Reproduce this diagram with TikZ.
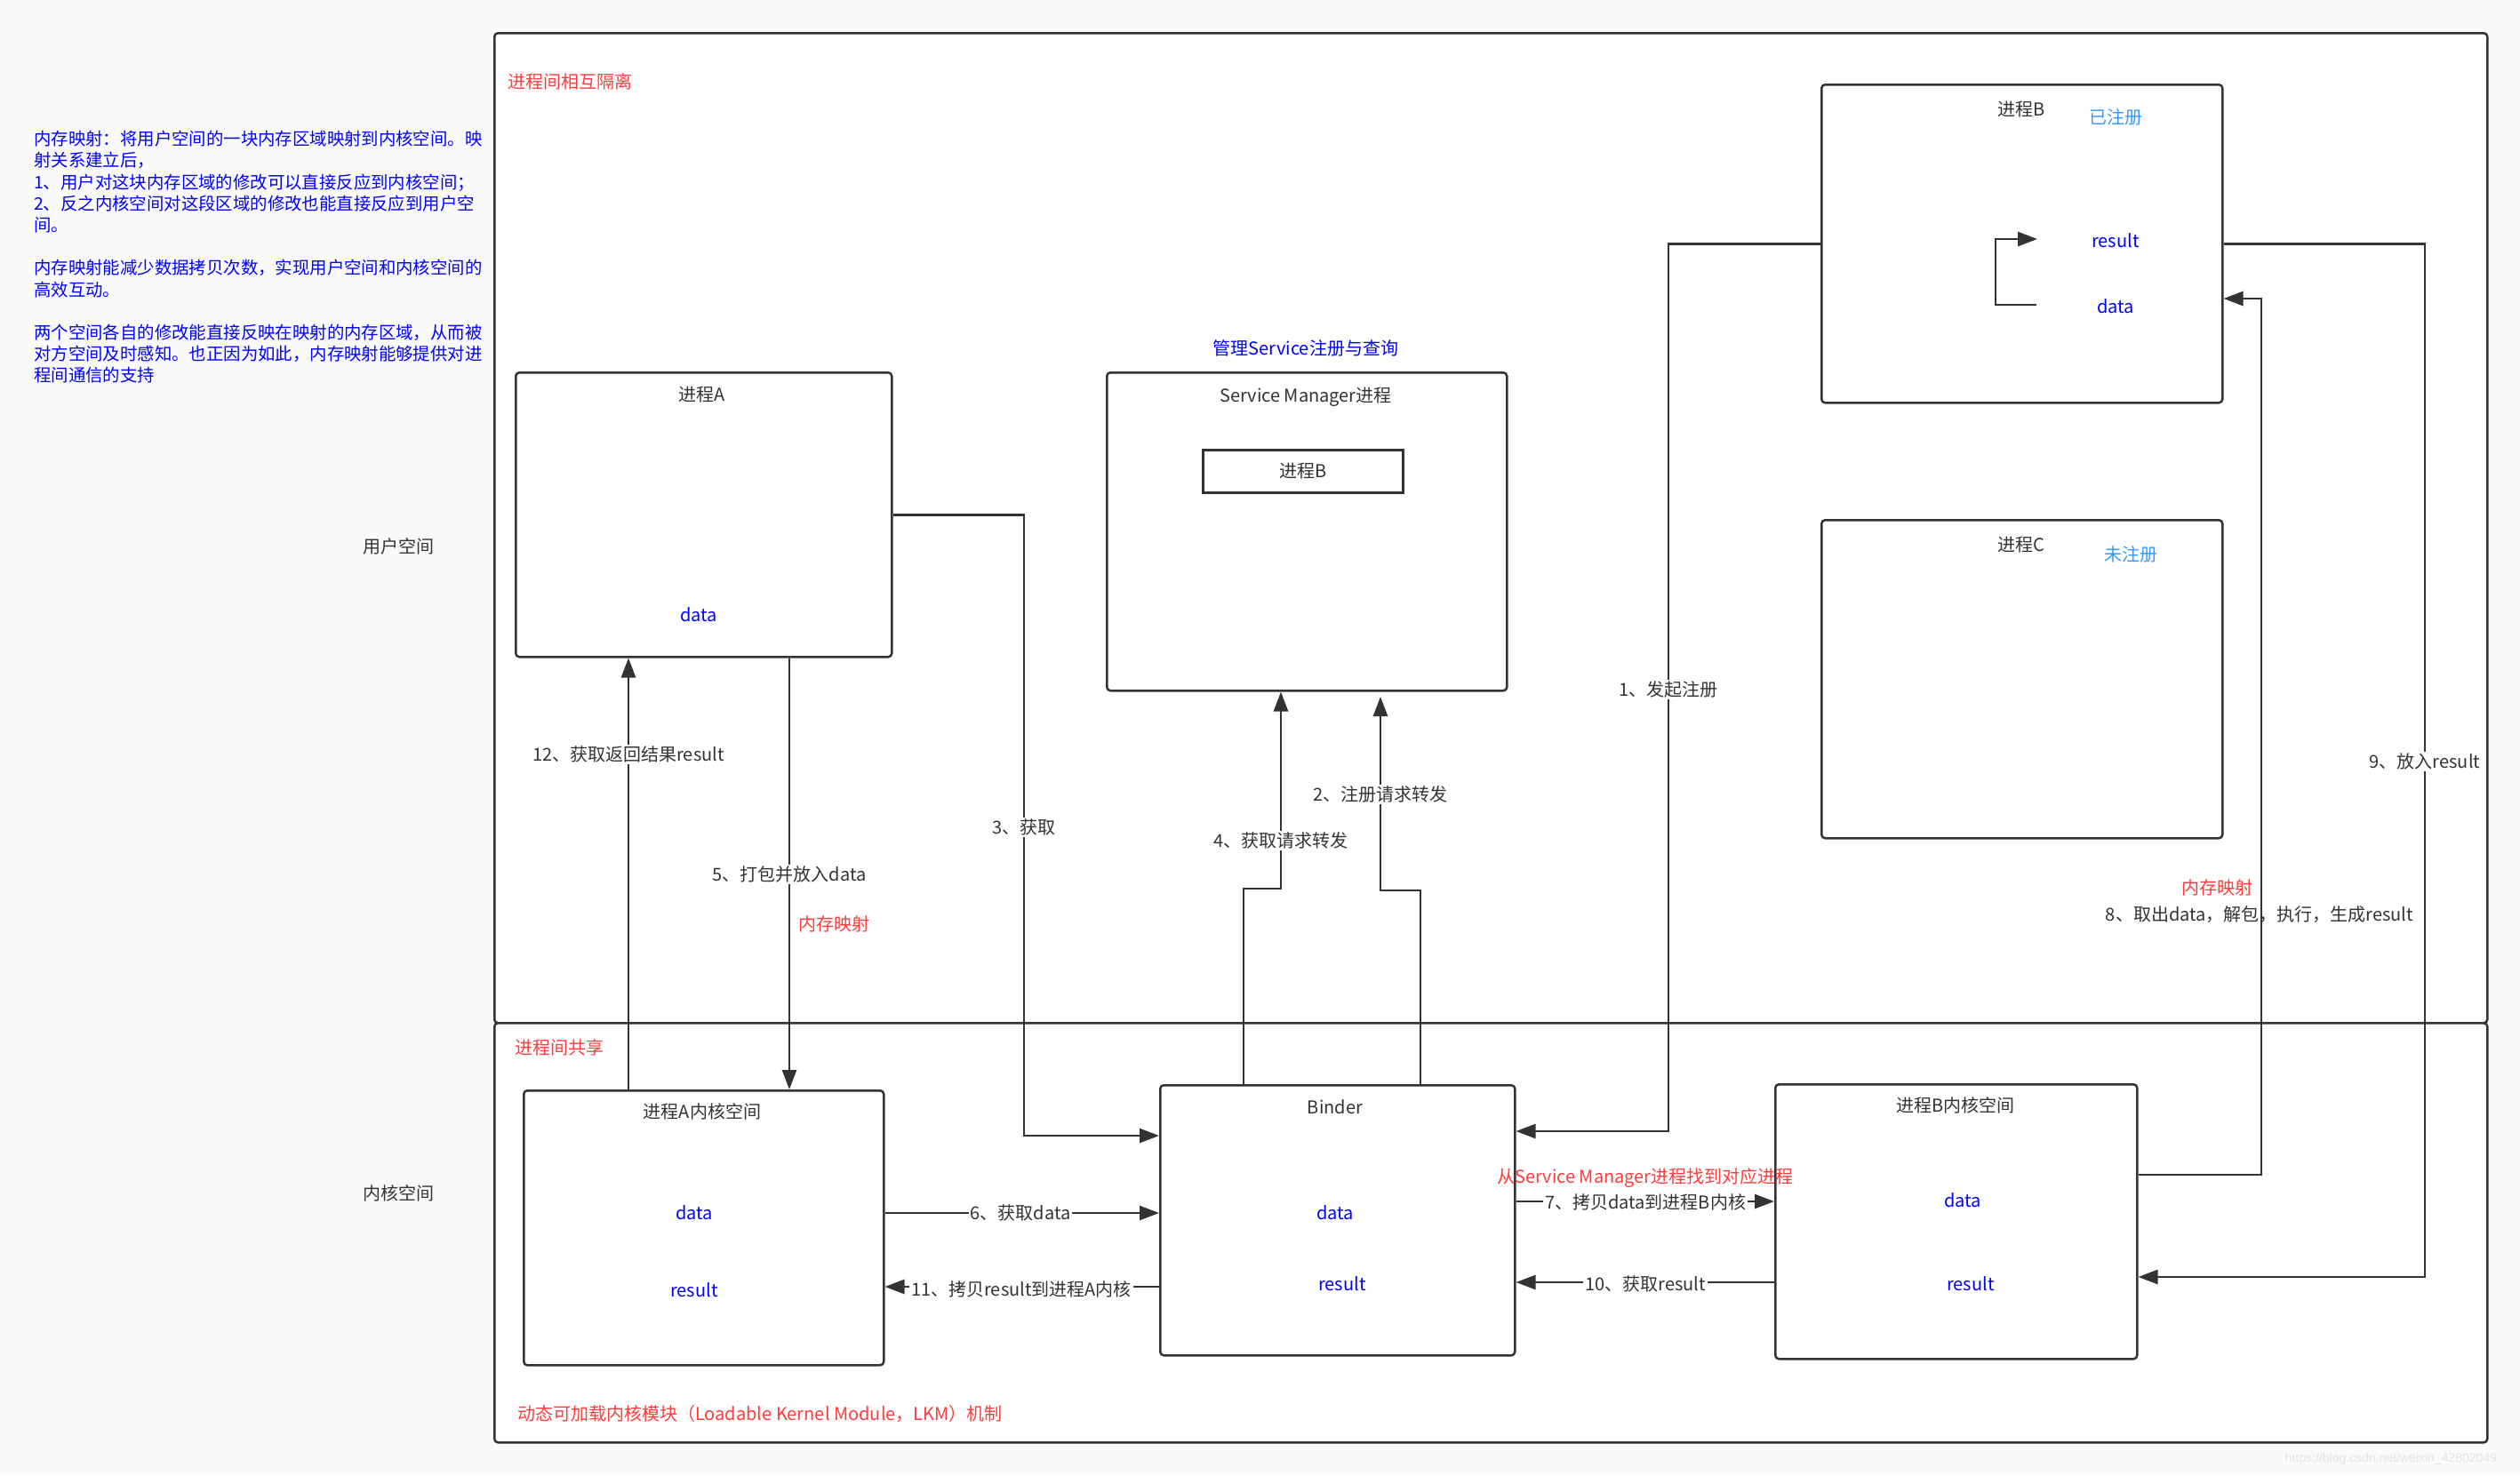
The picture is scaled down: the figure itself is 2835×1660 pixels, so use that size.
\documentclass[tikz,border=0pt]{standalone}
\usepackage{fontspec}
\setmainfont{Noto Sans CJK SC}
\newfontfamily\wmfont{Liberation Sans}
\usetikzlibrary{arrows.meta}
\definecolor{ln}{HTML}{333333}
\definecolor{txt}{HTML}{333333}
\definecolor{redt}{HTML}{FF3B3B}
\definecolor{bluet}{HTML}{0000FF}
\definecolor{lblue}{HTML}{3399FF}
\definecolor{bgc}{HTML}{FAFAFA}
\definecolor{wmc}{HTML}{E4E4E4}
\begin{document}
\begin{tikzpicture}[x=1pt,y=-1pt,
  box/.style={draw=ln,line width=2.5pt,rounded corners=4pt,fill=white,anchor=north west,inner sep=0pt},
  sqbox/.style={draw=ln,line width=2.5pt,fill=white,anchor=north west,inner sep=0pt},
  conn/.style={draw=ln,line width=2.6pt,-{Triangle[length=22pt,width=16pt]}},
  tx/.style={font=\fontsize{20}{24.2}\selectfont,text=txt,inner sep=0pt},
  lbl/.style={tx,fill=white,inner sep=2pt},
  redtxt/.style={tx,text=redt},
  bluetxt/.style={tx,text=bluet},
  lbluetxt/.style={tx,text=lblue}
]
\useasboundingbox (0,0) rectangle (2835,1660);
\fill[bgc] (0,0) rectangle (2835,1660);

% big frames
\node[box,minimum width=2242pt,minimum height=1114pt] (upper) at (555,36) {};
\node[box,minimum width=2242pt,minimum height=472pt] (lower) at (555,1150) {};

% left note
\node[bluetxt,font=\fontsize{19.4}{24.2}\selectfont,anchor=north west,align=left] (note) at (38,147) {内存映射：将用户空间的一块内存区域映射到内核空间。映\\射关系建立后，\\1、用户对这块内存区域的修改可以直接反应到内核空间；\\2、反之内核空间对这段区域的修改也能直接反应到用户空\\间。\\[24.2pt]内存映射能减少数据拷贝次数，实现用户空间和内核空间的\\高效互动。\\[24.2pt]两个空间各自的修改能直接反映在映射的内存区域，从而被\\对方空间及时感知。也正因为如此，内存映射能够提供对进\\程间通信的支持};

\node[tx] (userspace) at (448,615) {用户空间};
\node[tx] (kernelspace) at (448,1343) {内核空间};

\node[redtxt,anchor=west] (isol) at (571,92) {进程间相互隔离};
\node[redtxt,anchor=west] (share) at (579,1179) {进程间共享};
\node[redtxt,anchor=west] (lkm) at (582,1591) {动态可加载内核模块（Loadable Kernel Module，LKM）机制};

% user space boxes
\node[box,minimum width=423pt,minimum height=320pt] (A) at (579,418) {};
\node[tx] (Atitle) at (790,444) {进程A};
\node[bluetxt] (Adata) at (786,692) {data};

\node[box,minimum width=450pt,minimum height=358pt] (SM) at (1244,418) {};
\node[bluetxt] (SMnote) at (1469,392) {管理Service注册与查询};
\node[tx] (SMtitle) at (1469,447) {Service Manager进程};
\node[sqbox,minimum width=225pt,minimum height=48pt] (SMB) at (1352,505) {};
\node[tx] (SMBt) at (SMB.center) {进程B};

\node[box,minimum width=451pt,minimum height=358pt] (B) at (2048,94) {};
\node[tx] (Btitle) at (2274,123) {进程B};
\node[lbluetxt] (Breg) at (2380,132) {已注册};
\node[bluetxt] (Bresult) at (2380,271) {result};
\node[bluetxt] (Bdata) at (2380,345) {data};

\node[box,minimum width=451pt,minimum height=358pt] (C) at (2048,584) {};
\node[tx] (Ctitle) at (2274,613) {进程C};
\node[lbluetxt] (Creg) at (2397,624) {未注册};

% kernel space boxes
\node[box,minimum width=405pt,minimum height=309pt] (AK) at (588,1226) {};
\node[tx] (AKt) at (790,1251) {进程A内核空间};
\node[bluetxt] (AKdata) at (781,1365) {data};
\node[bluetxt] (AKresult) at (781,1452) {result};

\node[box,minimum width=399pt,minimum height=304pt] (Binder) at (1304,1220) {};
\node[tx] (Bindert) at (1502,1246) {Binder};
\node[bluetxt] (Bidata) at (1502,1365) {data};
\node[bluetxt] (Biresult) at (1510,1445) {result};

\node[box,minimum width=407pt,minimum height=309pt] (BK) at (1996,1219) {};
\node[tx] (BKt) at (2200,1244) {进程B内核空间};
\node[bluetxt] (BKdata) at (2208,1351) {data};
\node[bluetxt] (BKresult) at (2217,1445) {result};

% helper coordinates
\coordinate (c1) at (1877,1273);
\coordinate (c2a) at (1598,1002);
\coordinate (c2b) at (1553,1002);
\coordinate (c2e) at (1553,784);
\coordinate (c3) at (1152,1278);
\coordinate (c4a) at (1399,1000);
\coordinate (c4b) at (1441,1000);
\coordinate (x5) at (888,900);
\coordinate (x12) at (707,900);
\coordinate (y6) at (1148,1365);
\coordinate (y7) at (1850,1352);
\coordinate (c8a) at (2544,1322);
\coordinate (c8b) at (2544,336);
\coordinate (c9) at (2728,1437);
\coordinate (y10) at (1850,1443);
\coordinate (y11) at (1150,1448);
\coordinate (bi1) at (2291,343);
\coordinate (bi2) at (2245,343);
\coordinate (bi3) at (2245,269);
\coordinate (bi4) at (2292,269);

% connectors
\draw[conn] (B.west) -| (c1) -- (c1 -| Binder.east);
\draw[conn] (c2a |- Binder.north) -- (c2a) -- (c2b) -- (c2e);
\draw[conn] (A.east) -| (c3) -- (c3 -| Binder.west);
\draw[conn] (c4a |- Binder.north) -- (c4a) -- (c4b) -- (c4b |- SM.south);
\draw[conn] (x5 |- A.south) -- (x5 |- AK.north);
\draw[conn] (y6 -| AK.east) -- (y6 -| Binder.west);
\draw[conn] (y7 -| Binder.east) -- (y7 -| BK.west);
\draw[conn] (c8a -| BK.east) -- (c8a) -- (c8b) -- (c8b -| B.east);
\draw[conn] (B.east) -| (c9) -- (c9 -| BK.east);
\draw[conn] (y10 -| BK.west) -- (y10 -| Binder.east);
\draw[conn] (y11 -| Binder.west) -- (y11 -| AK.east);
\draw[conn] (x12 |- AK.north) -- (x12 |- A.south);
\draw[conn] (bi1) -- (bi2) -- (bi3) -- (bi4);

% connector labels
\node[lbl] (l1) at (1877,776) {1、发起注册};
\node[lbl] (l2) at (1553,894) {2、注册请求转发};
\node[lbl] (l3) at (1152,931) {3、获取};
\node[lbl] (l4) at (1441,946) {4、获取请求转发};
\node[lbl] (l5) at (888,984) {5、打包并放入data};
\node[redtxt] (l5r) at (938,1040) {内存映射};
\node[lbl] (l6) at (1148,1365) {6、获取data};
\node[lbl] (l7) at (1851,1353) {7、拷贝data到进程B内核};
\node[redtxt] (l7r) at (1851,1326) {从Service Manager进程找到对应进程};
\node[tx] (l8) at (2542,1029) {8、取出data，解包，执行，生成result};
\node[redtxt] (l8r) at (2494,999) {内存映射};
\node[lbl] (l9) at (2728,857) {9、放入result};
\node[lbl] (l10) at (1851,1445) {10、获取result};
\node[lbl] (l11) at (1149,1451) {11、拷贝result到进程A内核};
\node[lbl] (l12) at (707,849) {12、获取返回结果result};

% watermark
\node[font=\wmfont\fontsize{14}{16}\selectfont,text=wmc,inner sep=0pt] (wm) at (2690,1642) {https://blog.csdn.net/weixin\_42802049};
\end{tikzpicture}
\end{document}
